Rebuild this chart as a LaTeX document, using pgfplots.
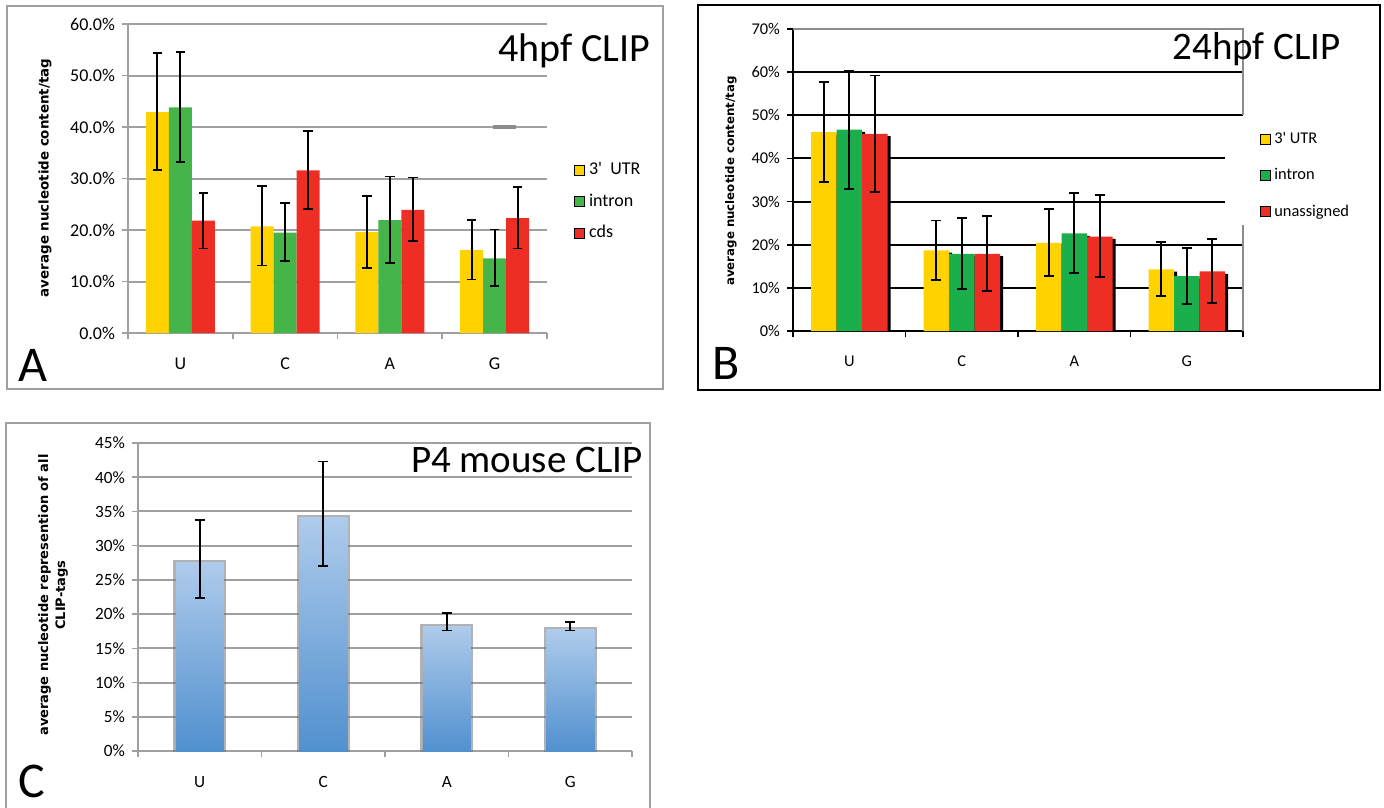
\documentclass[border=0pt]{standalone}
\usepackage{fontspec}
\setmainfont{Carlito}
\newfontfamily\labfont{DejaVu Sans}
\usepackage{pgfplots}
\usepackage{pgfplotstable}
\pgfplotsset{compat=1.18}
\usetikzlibrary{shadows}

\definecolor{cyel}{HTML}{FFD200}
\definecolor{cgrnA}{HTML}{46B549}
\definecolor{cgrnB}{HTML}{1AAF4B}
\definecolor{cred}{HTML}{EE2E24}
\definecolor{gridA}{HTML}{A0A0A0}
\definecolor{cbTop}{HTML}{AECBEB}
\definecolor{cbBot}{HTML}{5190CF}

% panel A: 4hpf CLIP (value, +err, -err)
\pgfplotstableread{
x utr  utrp utrm intr intrp intrm cds  cdsp cdsm
1 42.9 11.4 11.2 43.8 10.7  10.6  21.8 5.4  5.4
2 20.7 7.8  7.6  19.5 5.7   5.5   31.6 7.6  7.5
3 19.6 7.0  7.0  21.9 8.5   8.3   23.9 6.3  6.1
4 16.1 5.9  5.7  14.5 5.6   5.4   22.3 6.0  5.9
}\dataA

% panel B: 24hpf CLIP
\pgfplotstableread{
x utr  utrp utrm intr intrp intrm una  unap unam
1 46.1 11.6 11.5 46.7 13.7  13.7  45.7 13.5 13.4
2 18.7 6.9  6.9  17.9 8.3   8.2   17.9 8.8  8.6
3 20.4 7.8  7.7  22.6 9.3   9.2   21.9 9.6  9.4
4 14.3 6.3  6.1  12.7 6.6   6.5   13.8 7.6  7.3
}\dataB

\pgfplotsset{
  panel/.style={
    scale only axis, anchor=south west,
    xmin=0.5, xmax=4.5, ymin=0,
    axis x line*=bottom, axis y line*=left,
    xtick={0.5,1.5,2.5,3.5,4.5}, xticklabels={,,,,,},
    extra x ticks={1,2,3,4}, extra x tick labels={U,C,A,G},
    extra x tick style={major tick length=0pt, tick label style={yshift=-9pt}},
    tick align=outside, major tick length=3pt,
    ymajorgrids,
    /pgf/number format/assume math mode=true,
    error bars/y dir=both, error bars/y explicit,
    error bars/error bar style={black, line width=0.9pt},
    error bars/error mark options={rotate=90, draw=black, line width=0.9pt, mark size=2.4pt},
    legend cell align=left,
  },
  sq/.style={legend image code/.code={\fill[##1] (0pt,-2.5pt) rectangle (5pt,2.5pt);}},
}

\begin{document}
\begin{tikzpicture}
\useasboundingbox (0,0) rectangle (692pt,-403.5pt);

% ---------------- A ----------------
\begin{axis}[panel,
  at={(64pt,-166.5pt)}, width=209.5pt, height=154.5pt,
  ymax=60, ytick={0,10,...,60},
  yticklabel={\pgfmathprintnumber[fixed,fixed zerofill,precision=1]{\tick}\%},
  ybar=0pt, bar width=11.5pt,
  grid style={draw=gridA, line width=1pt},
  axis line style={draw=gridA, line width=0.8pt},
  tick style={draw=gridA, line width=0.8pt},
  tick label style={font=\fontsize{9}{10}\selectfont},
  legend style={at={(rel axis cs:1.064,0.565)}, anchor=north west, draw=none, fill=none,
    font=\fontsize{9}{10}\selectfont, row sep=4pt, inner sep=0pt},
]
\addlegendimage{sq, fill=cyel}
\addlegendimage{sq, fill=cgrnA}
\addlegendimage{sq, fill=cred}
\legend{3\textquotesingle~~UTR, intron, cds}
\addplot[fill=cyel, draw=none] table[x=x, y=utr, y error plus=utrp, y error minus=utrm] {\dataA};
\addplot[fill=cgrnA, draw=none] table[x=x, y=intr, y error plus=intrp, y error minus=intrm] {\dataA};
\addplot[fill=cred, draw=none] table[x=x, y=cds, y error plus=cdsp, y error minus=cdsm] {\dataA};
\draw[black!45, line width=1.6pt] (axis cs:3.98,40) -- (axis cs:4.2,40);
\end{axis}
\node[anchor=base east, inner sep=0pt, font=\fontsize{20}{22}\selectfont] at (325.5pt,-30.8pt) {4hpf CLIP};
\node[anchor=base west, inner sep=0pt, font=\fontsize{25}{28}\selectfont] at (9pt,-190.5pt) {A};
\node[rotate=90, font=\fontsize{6.7}{8}\selectfont\labfont\bfseries] at (22.5pt,-89pt) {average nucleotide content/tag};

% ---------------- B ----------------
\begin{axis}[panel,
  at={(396.5pt,-165.5pt)}, width=225pt, height=151pt,
  ymax=70, ytick={0,10,...,70},
  yticklabel={\pgfmathprintnumber{\tick}\%},
  ybar=0pt, bar width=12.75pt,
  grid style={draw=black, line width=1pt},
  axis line style={draw=black, line width=1pt},
  tick style={draw=black, line width=0.9pt},
  tick label style={font=\fontsize{8.2}{9}\selectfont},
  legend style={at={(rel axis cs:0.958,0.699)}, anchor=north west, draw=none, fill=white,
    font=\fontsize{8.2}{9}\selectfont, row sep=7pt, inner xsep=17.5pt, inner ysep=4pt},
]
\addlegendimage{sq, fill=cyel}
\addlegendimage{sq, fill=cgrnB}
\addlegendimage{sq, fill=cred}
\legend{3\textquotesingle\ UTR, intron, unassigned}
\addplot[fill=cyel, draw=none, drop shadow={shadow xshift=1.6pt, shadow yshift=-1.2pt, opacity=1, fill=black}]
  table[x=x, y=utr, y error plus=utrp, y error minus=utrm] {\dataB};
\addplot[fill=cgrnB, draw=none, drop shadow={shadow xshift=1.6pt, shadow yshift=-1.2pt, opacity=1, fill=black}]
  table[x=x, y=intr, y error plus=intrp, y error minus=intrm] {\dataB};
\addplot[fill=cred, draw=none, drop shadow={shadow xshift=1.6pt, shadow yshift=-1.2pt, opacity=1, fill=black}]
  table[x=x, y=una, y error plus=unap, y error minus=unam] {\dataB};
\coordinate (bTL) at (axis cs:0.5,70);
\coordinate (bTR) at (axis cs:4.5,70);
\coordinate (bMR) at (axis cs:4.5,50);
\coordinate (bLR) at (axis cs:4.5,24.5);
\coordinate (bBR) at (axis cs:4.5,0);
\end{axis}
\draw[black!45, line width=1.1pt] (bTL) -- (bTR) -- (bMR);
\draw[black!45, line width=1pt] (bBR) -- (bLR);
\node[anchor=base east, inner sep=0pt, font=\fontsize{19.5}{22}\selectfont] at (670.5pt,-30pt) {24hpf CLIP};
\node[anchor=base west, inner sep=0pt, font=\fontsize{25}{28}\selectfont] at (356pt,-189.5pt) {B};
\node[rotate=90, font=\fontsize{5.9}{7}\selectfont\labfont\bfseries] at (365.5pt,-90.5pt) {average nucleotide content/tag};

% ---------------- C ----------------
\begin{axis}[panel,
  at={(69pt,-375.5pt)}, width=247pt, height=154pt,
  ymax=45, ytick={0,5,...,45},
  yticklabel={\pgfmathprintnumber{\tick}\%},
  ybar, bar width=24pt,
  grid style={draw=gridA, line width=1pt},
  axis line style={draw=gridA, line width=0.8pt},
  tick style={draw=gridA, line width=0.8pt},
  tick label style={font=\fontsize{8.6}{10}\selectfont},
  cbar/.style={bar shift=0pt, draw=none, top color=cbTop, bottom color=cbBot,
    preaction={draw=black!55, line width=2.6pt, opacity=0.55}},
]
\addplot[cbar] coordinates {(1,27.5) += (0,6.3) -= (0,5.2)};
\addplot[cbar] coordinates {(2,34.1) += (0,8.2) -= (0,7.1)};
\addplot[cbar] coordinates {(3,18.2) += (0,2.0) -= (0,0.6)};
\addplot[cbar] coordinates {(4,17.7) += (0,1.1) -= (0,0.1)};
\end{axis}
\node[anchor=base east, inner sep=0pt, font=\fontsize{19.5}{22}\selectfont] at (321.5pt,-236.3pt) {P4 mouse CLIP};
\node[anchor=base west, inner sep=0pt, font=\fontsize{25}{28}\selectfont] at (9pt,-398.5pt) {C};
\node[rotate=90, align=center, font=\fontsize{6.5}{8.5}\selectfont\labfont\bfseries] at (26.5pt,-297.5pt)
  {average nucleotide represention of all\\CLIP-tags};

% frames
\draw[gridA, line width=1pt] (3.5pt,-3pt) rectangle (331.5pt,-194.5pt);
\draw[black, line width=1pt] (349pt,-2.5pt) rectangle (690pt,-195pt);
\draw[gridA, line width=1pt] (3pt,-404pt) -- (3pt,-211.5pt) -- (325pt,-211.5pt) -- (325pt,-404pt);
\end{tikzpicture}
\end{document}
